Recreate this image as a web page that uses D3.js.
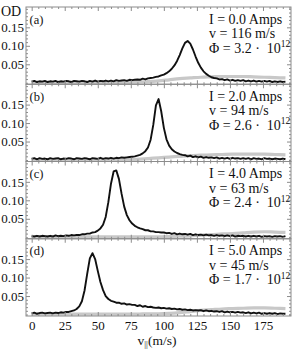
<!DOCTYPE html>
<html><head><meta charset="utf-8">
<script src="https://cdn.jsdelivr.net/npm/d3@7"></script>
<style>
html,body{margin:0;padding:0;background:#fff}
svg{display:block}
text{font-family:"Liberation Serif","Times New Roman",serif;fill:#111}
</style>
</head><body>
<svg id="chart" width="294" height="350"></svg>
<script>
// ---------------- DATA ----------------
const velocity = [0,2,4,6,8,10,12,14,16,18,20,22,24,26,28,30,32,34,36,38,40,42,44,46,48,50,52,54,56,58,
60,62,64,66,68,70,72,74,76,78,80,82,84,86,88,90,92,94,96,98,100,102,104,106,108,110,112,114,116,118,
120,122,124,126,128,130,132,134,136,138,140,142,144,146,148,150,152,154,156,158,160,162,164,166,168,170,
172,174,176,178,180,182,184,186,188,190,192];

const odA = [.003,.005,.002,.004,.003,.005,.002,.004,.003,.005,
.002,.004,.003,.005,.004,.002,.005,.004,.003,.005,
.004,.002,.005,.003,.006,.003,.005,.004,.006,.004,
.006,.004,.007,.005,.006,.007,.005,.008,.007,.008,
.009,.008,.011,.009,.012,.013,.014,.016,.017,.020,
.022,.026,.031,.038,.047,.059,.075,.093,.108,.113,
.106,.090,.071,.054,.041,.031,.024,.019,.015,.013,
.012,.009,.010,.007,.009,.006,.008,.005,.007,.005,
.007,.004,.006,.004,.006,.003,.005,.003,.005,.003,
.005,.002,.004,.002,.004,.002,.003];

const odB = [.003,.005,.002,.005,.003,.004,.002,.005,.003,.004,
.005,.002,.004,.003,.005,.004,.002,.005,.004,.003,
.005,.004,.002,.005,.004,.003,.006,.003,.005,.004,
.006,.004,.006,.005,.007,.006,.007,.008,.009,.010,
.012,.014,.018,.024,.034,.055,.095,.148,.165,.132,
.087,.056,.039,.029,.023,.019,.016,.014,.013,.010,
.012,.008,.010,.007,.009,.006,.008,.006,.007,.005,
.007,.004,.006,.004,.006,.003,.006,.004,.005,.003,
.005,.003,.005,.002,.005,.003,.004,.002,.005,.003,
.004,.002,.004,.003,.002,.004,.002];

const odC = [.003,.002,.004,.002,.004,.003,.002,.004,.002,.005,
.003,.004,.003,.005,.004,.006,.005,.006,.006,.008,
.008,.010,.010,.013,.014,.018,.024,.034,.055,.095,
.145,.178,.181,.158,.118,.083,.060,.046,.037,.031,
.027,.024,.022,.019,.019,.016,.016,.014,.014,.013,
.013,.011,.012,.009,.011,.008,.010,.008,.009,.007,
.009,.006,.008,.006,.007,.005,.007,.005,.006,.004,
.006,.004,.005,.003,.005,.003,.005,.002,.004,.003,
.004,.002,.004,.002,.004,.002,.004,.001,.003,.002,
.003,.001,.003,.002,.003,.001,.003];

const odD = [.003,.005,.002,.004,.005,.003,.004,.005,.003,.005,
.004,.006,.005,.007,.007,.009,.011,.015,.022,.036,
.065,.110,.152,.166,.150,.118,.088,.066,.050,.042,
.037,.035,.032,.032,.029,.030,.027,.028,.026,.026,
.023,.025,.021,.023,.020,.021,.019,.018,.019,.017,
.018,.016,.017,.015,.016,.014,.015,.013,.014,.012,
.013,.011,.012,.011,.012,.009,.011,.009,.010,.008,
.009,.007,.009,.006,.008,.006,.007,.005,.007,.005,
.006,.004,.006,.003,.005,.003,.005,.002,.004,.002,
.004,.002,.004,.001,.003,.002,.002];

const grayVelocity = [0,8,16,24,32,40,48,56,64,72,80,88,96,104,112,120,128,136,144,152,160,168,176,184,192];
const grayA = [.001,.001,.001,.001,.001,.001,.001,.001,.001,.001,.002,.003,.005,.008,.011,.013,.015,.016,.017,.017,.017,.016,.015,.014,.013];
const grayB = [.001,.001,.001,.001,.001,.001,.001,.001,.001,.001,.002,.004,.006,.008,.010,.012,.013,.014,.015,.016,.016,.016,.016,.015,.014];
const grayC = [.001,.001,.001,.001,.001,.001,.001,.001,.001,.001,.001,.001,.001,.002,.003,.004,.006,.007,.009,.010,.012,.014,.015,.014,.013];
const grayD = [.001,.001,.001,.001,.001,.001,.001,.001,.001,.001,.001,.002,.002,.003,.005,.008,.011,.013,.015,.016,.017,.018,.018,.017,.016];

const panelLabels = ["(a)","(b)","(c)","(d)"];
const currents = ["0.0","2.0","4.0","5.0"];
const speeds = ["116","94","63","45"];
const fluxes = ["3.2","2.6","2.4","1.7"];

const xTickValues = [0,25,50,75,100,125,150,175];
const xMinorValues = [5,10,15,20,30,35,40,45,55,60,65,70,80,85,90,95,105,110,115,120,130,135,140,145,155,160,165,170,180,185,190,195];
const yTickValues = [0.05,0.10,0.15];
const yMinorValues = [0,0.01,0.02,0.03,0.04,0.06,0.07,0.08,0.09,0.11,0.12,0.13,0.14,0.16,0.17,0.18,0.19,0.20];

// ---------------- DRAW ----------------
const svg = d3.select("#chart");
const L = 26, R = 291, T0 = 7, PH = 77.25;
const x = d3.scaleLinear().domain([-4.3,196.2]).range([L,R]);

const blacks = [odA,odB,odC,odD];
const grays = [grayA,grayB,grayC,grayD];
const frameCol = "#8c8c8c";
const serif = "'Liberation Serif','Times New Roman',serif";

blacks.forEach((vals,i)=>{
  const y0 = T0 + i*PH, y1 = y0 + PH;
  const y = d3.scaleLinear().domain([-0.004,0.205]).range([y1,y0]);
  const g = svg.append("g");
  const cid = "clip"+i;
  svg.append("clipPath").attr("id",cid).append("rect")
     .attr("x",L).attr("y",y0).attr("width",R-L).attr("height",PH);

  const plot = g.append("g").attr("clip-path",`url(#${cid})`);
  const grayLine = d3.line().x((d,j)=>x(grayVelocity[j])).y(d=>y(d)).curve(d3.curveMonotoneX);
  plot.append("path").datum(grays[i]).attr("d",grayLine)
     .attr("fill","none").attr("stroke","#c8c8c8").attr("stroke-width",3.2).attr("stroke-linejoin","round");
  const blackLine = d3.line().x((d,j)=>x(velocity[j])).y(d=>y(d));
  plot.append("path").datum(vals).attr("d",blackLine)
     .attr("fill","none").attr("stroke","#111").attr("stroke-width",1.9).attr("stroke-linejoin","round");

  // frame
  g.append("rect").attr("x",L).attr("y",y0).attr("width",R-L).attr("height",PH)
    .attr("fill","none").attr("stroke",frameCol).attr("stroke-width",1);

  const styleAxis = sel => { sel.select(".domain").remove(); sel.selectAll("line").attr("stroke",frameCol); sel.attr("font-family",serif); };
  g.append("g").attr("transform",`translate(0,${y1})`).call(d3.axisBottom(x).tickValues(xTickValues).tickSize(-4).tickFormat("")).call(styleAxis);
  g.append("g").attr("transform",`translate(0,${y1})`).call(d3.axisBottom(x).tickValues(xMinorValues).tickSize(-2).tickFormat("")).call(styleAxis);
  g.append("g").attr("transform",`translate(0,${y0})`).call(d3.axisTop(x).tickValues(xTickValues).tickSize(-4).tickFormat("")).call(styleAxis);
  g.append("g").attr("transform",`translate(0,${y0})`).call(d3.axisTop(x).tickValues(xMinorValues).tickSize(-2).tickFormat("")).call(styleAxis);
  g.append("g").attr("transform",`translate(${L},0)`).call(d3.axisLeft(y).tickValues(yTickValues).tickSize(-4).tickPadding(2).tickFormat(d3.format(".2f"))).call(styleAxis)
    .selectAll("text").style("font-size","13px").style("font-family",serif).attr("fill","#111");
  g.append("g").attr("transform",`translate(${L},0)`).call(d3.axisLeft(y).tickValues(yMinorValues).tickSize(-2).tickFormat("")).call(styleAxis);
  g.append("g").attr("transform",`translate(${R},0)`).call(d3.axisRight(y).tickValues(yTickValues).tickSize(-4).tickFormat("")).call(styleAxis);
  g.append("g").attr("transform",`translate(${R},0)`).call(d3.axisRight(y).tickValues(yMinorValues).tickSize(-2).tickFormat("")).call(styleAxis);

  if(i===3){
    g.append("g").attr("transform",`translate(0,${y1})`)
      .call(d3.axisBottom(x).tickValues(xTickValues).tickSize(0).tickPadding(4.5))
      .call(s=>{s.select(".domain").remove(); s.attr("font-family",serif);})
      .selectAll("text").style("font-size","13px").style("font-family",serif).attr("fill","#111");
  }

  g.append("text").attr("x",29.5).attr("y",y0+16.5).style("font-size","12.5px").text(panelLabels[i]);
  const ax = 209;
  g.append("text").attr("x",ax).attr("y",y0+16.5).style("font-size","14px").text(`I = ${currents[i]} Amps`);
  g.append("text").attr("x",ax).attr("y",y0+31).style("font-size","14px").text(`v = ${speeds[i]} m/s`);
  const ft = g.append("text").attr("x",ax).attr("y",y0+45.5).style("font-size","14px").style("white-space","pre");
  ft.append("tspan").text(`Φ = ${fluxes[i]} ·  10`);
  ft.append("tspan").attr("dy",-5.5).style("font-size","9.5px").text("12");
});

svg.append("text").attr("x",1).attr("y",16).style("font-size","14px").text("OD");

const title = svg.append("text").attr("x",157).attr("y",344.5).attr("text-anchor","middle").style("font-size","13.5px");
title.append("tspan").text("v");
title.append("tspan").attr("dy",2.5).style("font-size","9px").text("||");
title.append("tspan").attr("dy",-2.5).text("(m/s)");
</script>
</body></html>
